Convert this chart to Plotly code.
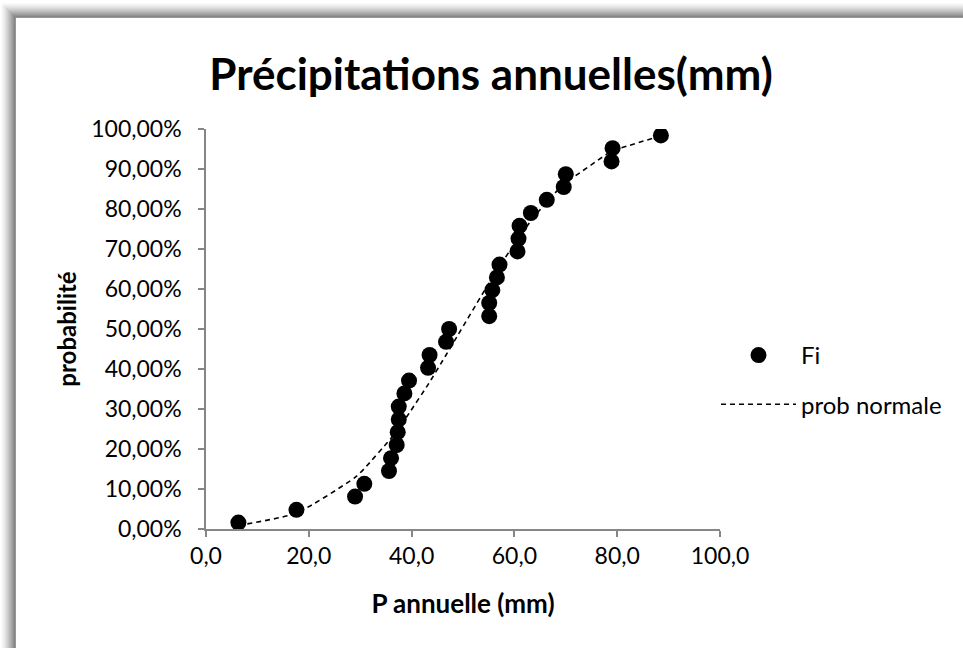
import plotly.graph_objects as go

# ---- data ----
fi_x = [6.3, 17.6, 29.0, 30.8, 35.6, 36.0, 37.1, 37.3, 37.5, 37.5, 38.6, 39.5,
        43.2, 43.5, 46.7, 47.3, 55.1, 55.1, 55.7, 56.6, 57.1, 60.6, 60.8, 61.0,
        63.2, 66.3, 69.6, 70.0, 78.9, 79.1, 88.5]
fi_y = [0.016, 0.048, 0.081, 0.113, 0.145, 0.177, 0.210, 0.242, 0.274, 0.306,
        0.339, 0.371, 0.403, 0.435, 0.468, 0.500, 0.532, 0.565, 0.597, 0.629,
        0.661, 0.694, 0.726, 0.758, 0.790, 0.823, 0.855, 0.887, 0.919, 0.952, 0.984]
norm_y = [0.009, 0.040, 0.129, 0.151, 0.221, 0.227, 0.245, 0.249, 0.252, 0.252,
          0.272, 0.289, 0.361, 0.367, 0.435, 0.448, 0.616, 0.616, 0.629, 0.647,
          0.657, 0.724, 0.728, 0.731, 0.770, 0.818, 0.862, 0.866, 0.945, 0.946, 0.983]

title_text = "Précipitations annuelles(mm)"
x_title = "P annuelle (mm)"
y_title = "probabilité"
series_names = ["Fi", "prob normale"]

W, H = 963, 648
L, R, T, B = 206, 243, 129, 119
PW, PH = W - L - R, H - T - B
FONT = "Lato, Carlito, Calibri, sans-serif"


def px(x):
    return (x - L) / PW


def py(y):
    return (H - B - y) / PH


fig = go.Figure()
fig.add_trace(go.Scatter(
    x=fi_x, y=fi_y, mode="markers", name=series_names[0],
    marker=dict(color="black", size=16), legendgroup="a"))
fig.add_trace(go.Scatter(
    x=fi_x, y=norm_y, mode="lines", name=series_names[1],
    line=dict(color="black", width=1.6, dash="5px,4px", shape="spline", smoothing=0.6),
    legendgroup="b"))

# frame shadow
shapes = []
for i in range(14):
    g = int(250 - (250 - 135) * (i / 13) ** 1.3)
    col = f"rgb({g},{g},{g})"
    shapes.append(dict(type="line", xref="paper", yref="paper",
                       x0=px(1.5 + i), x1=px(1.5 + i), y0=py(3 + i), y1=py(H + 10),
                       line=dict(color=col, width=1)))
    shapes.append(dict(type="line", xref="paper", yref="paper",
                       x0=px(1.5 + i), x1=px(W + 10), y0=py(3.5 + i), y1=py(3.5 + i),
                       line=dict(color=col, width=1)))
shapes.append(dict(type="line", xref="paper", yref="paper",
                   x0=px(15.5), x1=px(15.5), y0=py(17), y1=py(H + 10),
                   line=dict(color="rgb(150,150,150)", width=1)))
shapes.append(dict(type="line", xref="paper", yref="paper",
                   x0=px(15), x1=px(W + 10), y0=py(17.5), y1=py(17.5),
                   line=dict(color="rgb(150,150,150)", width=1)))

fig.update_layout(
    width=W, height=H,
    margin=dict(l=L, r=R, t=T, b=B, autoexpand=False),
    paper_bgcolor="white", plot_bgcolor="white",
    separators=", ",
    font=dict(family=FONT, color="black", size=23),
    title=dict(text=f"<b>{title_text}</b>", font=dict(size=44, family=FONT),
               x=px(491), xref="paper", xanchor="center",
               y=1 - 75 / H, yref="container", yanchor="middle"),
    showlegend=True,
    legend=dict(x=px(716), y=py(333), xanchor="left", yanchor="top",
                font=dict(size=24, family=FONT), tracegroupgap=15, itemwidth=75,
                bgcolor="rgba(0,0,0,0)"),
    shapes=shapes,
)
fig.update_xaxes(
    range=[0, 100], dtick=20, tick0=0, tickformat=".1f",
    showgrid=False, zeroline=False, showline=True, linecolor="#868686", linewidth=1.5,
    ticks="outside", ticklen=6, tickcolor="#868686", tickwidth=1.5,
    tickfont=dict(size=23, family=FONT),
    title=dict(text=f"<b>{x_title}</b>", font=dict(size=26, family=FONT), standoff=26),
)
fig.update_yaxes(
    range=[0, 1], dtick=0.1, tick0=0, tickformat=".2%",
    showgrid=False, zeroline=False, showline=True, linecolor="#868686", linewidth=1.5,
    ticks="outside", ticklen=6, tickcolor="#868686", tickwidth=1.5,
    ticklabelstandoff=12,
    tickfont=dict(size=23, family=FONT),
    title=dict(text=f"<b>{y_title}</b>", font=dict(size=24, family=FONT), standoff=8),
)

fig.write_html("out.html", config={"displayModeBar": False},
               post_script="document.body.style.margin='0';document.body.style.overflow='hidden';")
